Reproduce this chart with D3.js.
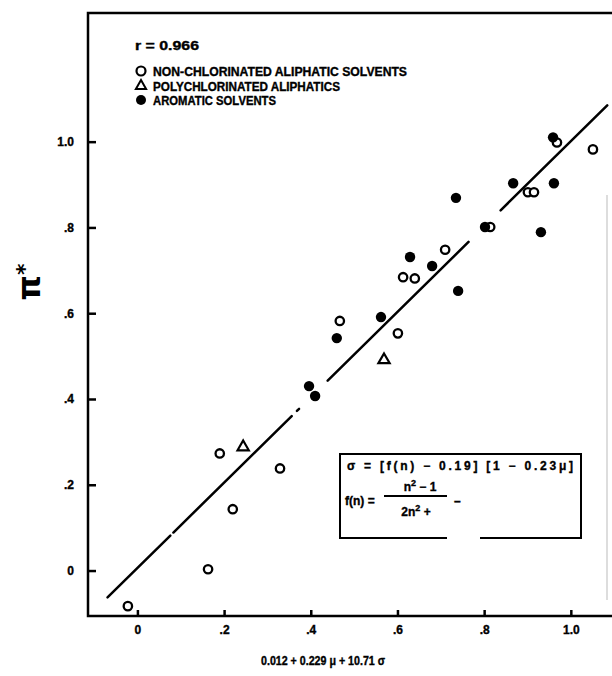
<!DOCTYPE html>
<meta charset="utf-8">
<html>
<body style="margin:0;background:#fff">
<div id="chart"></div>
<script src="https://cdn.jsdelivr.net/npm/d3@7"></script>
<script>
// values
var nonChlorinated = [[-0.022,-0.083],[0.163,0.003],[0.190,0.273],[0.220,0.143],[0.329,0.238],
    [0.467,0.582],[0.601,0.553],[0.613,0.684],[0.640,0.681],[0.710,0.748],[0.814,0.801],
    [0.901,0.882],[0.915,0.882],[0.968,0.998],[1.051,0.982]];
var polychlorinated = [[0.244,0.288],[0.569,0.491]];
var aromatic = [[0.396,0.430],[0.410,0.407],[0.460,0.542],[0.562,0.591],[0.629,0.731],
    [0.680,0.710],[0.735,0.869],[0.740,0.652],[0.802,0.801],[0.867,0.903],[0.931,0.789],
    [0.961,0.903],[0.959,1.010]];
// fitted line, drawn in broken pieces like the print
var fitSlope = 0.995, fitIntercept = 0.006;
var fitPieces = [[-0.069,0.076],[0.083,0.356],[0.368,0.373],[0.439,0.764],[0.838,1.084]];
var xTicks = [0, 0.2, 0.4, 0.6, 0.8, 1.0];
var yTicks = [0, 0.2, 0.4, 0.6, 0.8, 1.0];
var tickLabels = ["0", ".2", ".4", ".6", ".8", "1.0"];
var legendItems = ["NON-CHLORINATED ALIPHATIC SOLVENTS", "POLYCHLORINATED ALIPHATICS", "AROMATIC SOLVENTS"];
var legendWidths = [254, 187, 123];

var W = 612, H = 676;
var font = "'Liberation Sans', Arial, sans-serif";
var svg = d3.select("#chart").append("svg").attr("width", W).attr("height", H)
    .style("font-family", font).style("font-weight", "bold");

var x = d3.scaleLinear().domain([-0.114, 1.095]).range([88, 612]);
var y = d3.scaleLinear().domain([-0.106, 1.30]).range([616, 13]);

// heavier strokes on text, the print is quite inky
function ink(sel, size) {
    return sel.style("font-size", size + "px").attr("fill", "#000")
        .attr("stroke", "#000").attr("stroke-width", 0.35);
}

// frame (open to the right, page is cut there)
svg.append("path")
    .attr("d", "M612,13 H88 V616 H612")
    .attr("fill", "none").attr("stroke", "#000").attr("stroke-width", 2.5);
svg.append("line").attr("x1", 607).attr("x2", 607).attr("y1", 195).attr("y2", 600)
    .attr("stroke", "#bbb").attr("stroke-width", 1);

var fmt = function (d, i) { return tickLabels[i]; };
var xAxis = svg.append("g").attr("transform", "translate(0,616)")
    .call(d3.axisBottom(x).tickValues(xTicks).tickFormat(fmt).tickSize(-6).tickPadding(9));
var yAxis = svg.append("g").attr("transform", "translate(88,0)")
    .call(d3.axisLeft(y).tickValues(yTicks).tickFormat(fmt).tickSize(-8).tickPadding(14));
[xAxis, yAxis].forEach(function (g) {
    g.select(".domain").remove();
    g.selectAll("line").attr("stroke-width", 2.5);
    ink(g.selectAll("text").style("font-family", font).style("font-weight", "bold"), 12);
});

// regression line
fitPieces.forEach(function (p) {
    svg.append("line")
        .attr("x1", x(p[0])).attr("y1", y(fitSlope * p[0] + fitIntercept))
        .attr("x2", x(p[1])).attr("y2", y(fitSlope * p[1] + fitIntercept))
        .attr("stroke", "#000").attr("stroke-width", 2.5).attr("stroke-linecap", "round");
});

// points
svg.selectAll(".open").data(nonChlorinated).enter().append("circle")
    .attr("cx", function (d) { return x(d[0]); }).attr("cy", function (d) { return y(d[1]); })
    .attr("r", 4.2).attr("fill", "#fff").attr("stroke", "#000").attr("stroke-width", 2.3);
svg.selectAll(".tri").data(polychlorinated).enter().append("path")
    .attr("d", d3.symbol(d3.symbolTriangle, 55))
    .attr("transform", function (d) { return "translate(" + x(d[0]) + "," + y(d[1]) + ")"; })
    .attr("fill", "#fff").attr("stroke", "#000").attr("stroke-width", 2.2);
svg.selectAll(".filled").data(aromatic).enter().append("circle")
    .attr("cx", function (d) { return x(d[0]); }).attr("cy", function (d) { return y(d[1]); })
    .attr("r", 5.2).attr("fill", "#000");

// legend
ink(svg.append("text").attr("x", 135).attr("y", 50)
    .attr("textLength", 64).attr("lengthAdjust", "spacingAndGlyphs").text("r = 0.966"), 12);
var ly = [71, 86, 100];
svg.append("circle").attr("cx", 141).attr("cy", ly[0]).attr("r", 4.5)
    .attr("fill", "#fff").attr("stroke", "#000").attr("stroke-width", 2.2);
svg.append("path").attr("d", d3.symbol(d3.symbolTriangle, 45))
    .attr("transform", "translate(141," + ly[1] + ")")
    .attr("fill", "#fff").attr("stroke", "#000").attr("stroke-width", 2);
svg.append("circle").attr("cx", 141).attr("cy", ly[2]).attr("r", 5).attr("fill", "#000");
ink(svg.selectAll(".leg").data(legendItems).enter().append("text")
    .attr("x", 153).attr("y", function (d, i) { return ly[i] + 4.5; })
    .attr("textLength", function (d, i) { return legendWidths[i]; })
    .attr("lengthAdjust", "spacingAndGlyphs")
    .text(function (d) { return d; }), 12);

// formula box (bottom edge broken in the print)
svg.append("path").attr("d", "M447,538 H340 V454 H581 V538 H480")
    .attr("fill", "none").attr("stroke", "#000").attr("stroke-width", 2);
ink(svg.append("text").attr("x", 347).attr("y", 470)
    .attr("textLength", 226).attr("lengthAdjust", "spacing")
    .text("σ = [f(n) − 0.19] [1 − 0.23μ]"), 12);
ink(svg.append("text").attr("x", 345).attr("y", 505).text("f(n) ="), 12);
ink(svg.append("text").attr("x", 420).attr("y", 491).attr("text-anchor", "middle")
    .html("n<tspan dy='-5' font-size='9'>2</tspan><tspan dy='5'> − 1</tspan>"), 12);
svg.append("line").attr("x1", 384).attr("x2", 447).attr("y1", 496).attr("y2", 496)
    .attr("stroke", "#000").attr("stroke-width", 2);
ink(svg.append("text").attr("x", 416).attr("y", 516).attr("text-anchor", "middle")
    .html("2n<tspan dy='-5' font-size='9'>2</tspan><tspan dy='5'> +</tspan>"), 12);
ink(svg.append("text").attr("x", 454).attr("y", 505).text("–"), 12);

// axis titles
ink(svg.append("text").attr("x", 323).attr("y", 665).attr("text-anchor", "middle")
    .attr("textLength", 124).attr("lengthAdjust", "spacingAndGlyphs")
    .text("0.012 + 0.229 μ + 10.71 σ"), 12);
svg.append("text").attr("transform", "translate(40,282) rotate(-90)").attr("text-anchor", "middle")
    .style("font-family", "'DejaVu Sans', sans-serif").style("font-size", "32px")
    .html("π<tspan font-size='22' dy='-8'>*</tspan>");
</script>
</body>
</html>
